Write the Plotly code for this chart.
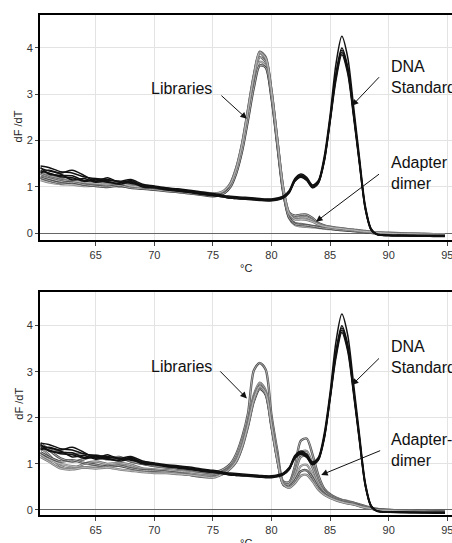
import plotly.graph_objects as go

# Temperature grid (deg C)
TEMP = [60.3, 61, 62, 63, 64, 65, 66, 67, 68, 69,
        70, 71, 72, 73, 74, 75, 75.5, 76, 76.5, 77,
        77.5, 78, 78.5, 79, 79.5, 80, 80.5, 81, 81.5, 82,
        82.5, 83, 83.5, 84, 84.5, 85, 85.5, 86, 86.5, 87,
        87.5, 88, 88.5, 89, 90, 91, 92, 93, 94, 94.8]

# DNA standard melt curves (same in both panels)
DNA_1 = [1.45, 1.42, 1.33, 1.30, 1.22, 1.18, 1.16, 1.12, 1.16, 1.06,
         1.02, 0.98, 0.96, 0.93, 0.89, 0.86, 0.84, 0.81, 0.80, 0.79,
         0.78, 0.77, 0.76, 0.75, 0.74, 0.74, 0.76, 0.80, 0.92, 1.18,
         1.28, 1.21, 1.04, 1.14, 1.66, 2.55, 3.65, 4.25, 3.8, 2.75,
         1.65, 0.6, 0.1, -0.02, -0.04, -0.04, -0.05, -0.05, -0.05, -0.05]
DNA_2 = [1.40, 1.35, 1.30, 1.36, 1.25, 1.12, 1.20, 1.10, 1.12, 1.03,
         1.00, 0.97, 0.94, 0.91, 0.88, 0.84, 0.82, 0.80, 0.78, 0.77,
         0.76, 0.76, 0.75, 0.74, 0.73, 0.73, 0.75, 0.79, 0.90, 1.16,
         1.25, 1.18, 1.02, 1.12, 1.6, 2.48, 3.45, 4.0, 3.6, 2.62,
         1.58, 0.57, 0.09, -0.02, -0.04, -0.05, -0.05, -0.05, -0.05, -0.05]
DNA_3 = [1.35, 1.30, 1.22, 1.20, 1.12, 1.15, 1.10, 1.08, 1.14, 1.02,
         0.99, 0.96, 0.92, 0.89, 0.86, 0.83, 0.81, 0.79, 0.77, 0.76,
         0.75, 0.75, 0.74, 0.73, 0.72, 0.72, 0.74, 0.78, 0.89, 1.14,
         1.23, 1.16, 1.0, 1.1, 1.58, 2.45, 3.4, 3.95, 3.55, 2.6,
         1.55, 0.55, 0.08, -0.02, -0.05, -0.05, -0.05, -0.06, -0.06, -0.06]
DNA_4 = [1.30, 1.36, 1.28, 1.15, 1.18, 1.10, 1.14, 1.12, 1.08, 1.04,
         1.01, 0.95, 0.93, 0.90, 0.85, 0.82, 0.80, 0.78, 0.76, 0.75,
         0.74, 0.74, 0.73, 0.72, 0.71, 0.71, 0.73, 0.77, 0.88, 1.13,
         1.22, 1.15, 0.99, 1.09, 1.56, 2.42, 3.36, 3.9, 3.5, 2.56,
         1.52, 0.53, 0.07, -0.03, -0.05, -0.05, -0.06, -0.06, -0.06, -0.06]
DNA_5 = [1.42, 1.28, 1.25, 1.24, 1.14, 1.16, 1.12, 1.06, 1.10, 1.00,
         0.98, 0.94, 0.91, 0.88, 0.84, 0.81, 0.80, 0.78, 0.76, 0.75,
         0.74, 0.73, 0.72, 0.71, 0.70, 0.70, 0.72, 0.76, 0.87, 1.12,
         1.21, 1.14, 0.98, 1.08, 1.54, 2.4, 3.3, 3.85, 3.45, 2.52,
         1.5, 0.52, 0.07, -0.03, -0.05, -0.06, -0.06, -0.06, -0.07, -0.07]

# Library melt curves, top panel
LIB_TOP_1 = [1.28, 1.22, 1.15, 1.12, 1.08, 1.06, 1.10, 1.05, 1.07, 0.99,
             0.97, 0.95, 0.92, 0.90, 0.87, 0.85, 0.86, 0.92, 1.08, 1.42,
             1.95, 2.68, 3.42, 3.92, 3.8, 3.08, 2.02, 0.98, 0.45, 0.38,
             0.4, 0.4, 0.33, 0.22, 0.17, 0.14, 0.12, 0.11, 0.09, 0.08,
             0.06, 0.05, 0.03, 0.02, 0.01, 0.0, -0.01, -0.01, -0.02, -0.02]
LIB_TOP_2 = [1.35, 1.25, 1.20, 1.16, 1.12, 1.10, 1.05, 1.08, 1.03, 1.01,
             0.98, 0.94, 0.93, 0.89, 0.86, 0.84, 0.85, 0.90, 1.05, 1.38,
             1.9, 2.62, 3.38, 3.88, 3.76, 3.05, 2.0, 0.96, 0.42, 0.33,
             0.35, 0.34, 0.28, 0.2, 0.15, 0.12, 0.1, 0.09, 0.08, 0.07,
             0.05, 0.04, 0.02, 0.01, 0.0, -0.01, -0.01, -0.02, -0.02, -0.02]
LIB_TOP_3 = [1.22, 1.18, 1.12, 1.08, 1.06, 1.04, 1.06, 1.02, 1.04, 0.98,
             0.96, 0.93, 0.91, 0.88, 0.85, 0.83, 0.84, 0.90, 1.04, 1.36,
             1.86, 2.56, 3.3, 3.8, 3.7, 3.0, 1.95, 0.92, 0.36, 0.22,
             0.2, 0.18, 0.16, 0.14, 0.12, 0.1, 0.09, 0.08, 0.07, 0.06,
             0.04, 0.03, 0.02, 0.01, 0.0, -0.01, -0.02, -0.02, -0.03, -0.03]
LIB_TOP_4 = [1.15, 1.10, 1.06, 1.05, 1.02, 1.03, 1.04, 1.01, 1.00, 0.97,
             0.95, 0.92, 0.90, 0.87, 0.84, 0.82, 0.83, 0.88, 1.02, 1.33,
             1.82, 2.5, 3.22, 3.7, 3.62, 2.95, 1.92, 0.9, 0.33, 0.18,
             0.15, 0.14, 0.13, 0.12, 0.1, 0.09, 0.08, 0.07, 0.06, 0.05,
             0.04, 0.03, 0.01, 0.0, -0.01, -0.02, -0.02, -0.03, -0.03, -0.03]
LIB_TOP_5 = [1.20, 1.14, 1.08, 1.10, 1.05, 1.02, 1.00, 1.03, 0.98, 0.96,
             0.94, 0.91, 0.89, 0.86, 0.83, 0.80, 0.82, 0.87, 1.0, 1.3,
             1.78, 2.45, 3.15, 3.62, 3.58, 2.92, 1.9, 0.88, 0.34, 0.2,
             0.18, 0.17, 0.15, 0.13, 0.11, 0.1, 0.08, 0.07, 0.06, 0.05,
             0.04, 0.02, 0.01, 0.0, -0.01, -0.02, -0.03, -0.03, -0.03, -0.04]
LIB_TOP_6 = [1.32, 1.28, 1.22, 1.14, 1.10, 1.08, 1.06, 1.09, 1.02, 1.00,
             0.99, 0.96, 0.94, 0.90, 0.88, 0.86, 0.87, 0.93, 1.07, 1.4,
             1.93, 2.66, 3.4, 3.9, 3.78, 3.06, 2.0, 0.97, 0.43, 0.3,
             0.3, 0.29, 0.25, 0.19, 0.15, 0.13, 0.11, 0.1, 0.08, 0.07,
             0.05, 0.04, 0.03, 0.02, 0.0, -0.01, -0.01, -0.02, -0.02, -0.02]

# Library melt curves, bottom panel (with adapter-dimer peak)
LIB_BOT_1 = [1.40, 1.30, 1.12, 1.05, 1.10, 1.18, 1.12, 1.15, 1.05, 1.00,
             0.95, 0.92, 0.90, 0.88, 0.84, 0.82, 0.84, 0.90, 1.0, 1.22,
             1.58, 2.1, 3.03, 3.19, 3.05, 2.05, 1.28, 0.62, 0.6, 0.95,
             1.5, 1.55, 1.2, 0.75, 0.46, 0.34, 0.27, 0.22, 0.19, 0.16,
             0.12, 0.08, 0.05, 0.02, 0.0, -0.01, -0.01, -0.02, -0.02, -0.02]
LIB_BOT_2 = [1.35, 1.20, 0.95, 0.90, 1.00, 1.05, 1.00, 1.02, 0.98, 0.90,
             0.88, 0.86, 0.84, 0.82, 0.79, 0.78, 0.80, 0.85, 0.95, 1.15,
             1.5, 1.95, 2.5, 2.76, 2.6, 1.9, 1.15, 0.6, 0.6, 0.85,
             1.25, 1.28, 1.0, 0.65, 0.42, 0.32, 0.25, 0.21, 0.18, 0.15,
             0.11, 0.07, 0.04, 0.02, 0.0, -0.01, -0.02, -0.02, -0.02, -0.03]
LIB_BOT_3 = [1.45, 1.32, 1.25, 1.22, 1.20, 1.15, 1.10, 1.12, 1.06, 1.00,
             0.96, 0.94, 0.90, 0.87, 0.83, 0.80, 0.80, 0.84, 0.93, 1.1,
             1.42, 1.9, 2.45, 2.7, 2.55, 1.85, 1.12, 0.58, 0.56, 0.8,
             1.15, 1.18, 0.92, 0.6, 0.4, 0.3, 0.24, 0.2, 0.17, 0.14,
             0.1, 0.06, 0.04, 0.01, 0.0, -0.01, -0.02, -0.02, -0.03, -0.03]
LIB_BOT_4 = [1.20, 1.10, 1.00, 0.95, 0.92, 0.95, 0.96, 0.98, 0.92, 0.88,
             0.84, 0.82, 0.80, 0.78, 0.75, 0.74, 0.77, 0.82, 0.92, 1.08,
             1.4, 1.86, 2.4, 2.66, 2.52, 1.82, 1.1, 0.57, 0.52, 0.7,
             0.95, 0.98, 0.78, 0.52, 0.36, 0.28, 0.23, 0.19, 0.16, 0.13,
             0.09, 0.06, 0.03, 0.01, -0.01, -0.02, -0.02, -0.03, -0.03, -0.03]
LIB_BOT_5 = [1.25, 1.15, 1.05, 1.08, 1.02, 0.98, 0.94, 0.96, 0.90, 0.86,
             0.85, 0.83, 0.80, 0.76, 0.72, 0.72, 0.75, 0.80, 0.9, 1.05,
             1.36, 1.82, 2.36, 2.63, 2.5, 1.8, 1.08, 0.55, 0.5, 0.64,
             0.84, 0.86, 0.7, 0.48, 0.35, 0.27, 0.22, 0.18, 0.15, 0.12,
             0.09, 0.05, 0.03, 0.01, -0.01, -0.02, -0.03, -0.03, -0.03, -0.04]
LIB_BOT_6 = [1.15, 1.05, 0.90, 0.88, 0.92, 0.90, 0.92, 0.88, 0.85, 0.82,
             0.80, 0.80, 0.78, 0.76, 0.73, 0.70, 0.74, 0.80, 0.9, 1.06,
             1.38, 1.85, 2.4, 2.68, 2.54, 1.84, 1.1, 0.56, 0.48, 0.58,
             0.74, 0.76, 0.62, 0.44, 0.33, 0.26, 0.21, 0.17, 0.14, 0.12,
             0.08, 0.05, 0.03, 0.0, -0.01, -0.02, -0.03, -0.03, -0.04, -0.04]

DNA_CURVES = [DNA_1, DNA_2, DNA_3, DNA_4, DNA_5]
LIB_TOP = [LIB_TOP_1, LIB_TOP_2, LIB_TOP_3, LIB_TOP_4, LIB_TOP_5, LIB_TOP_6]
LIB_BOT = [LIB_BOT_1, LIB_BOT_2, LIB_BOT_3, LIB_BOT_4, LIB_BOT_5, LIB_BOT_6]

X_TICKS = [65, 70, 75, 80, 85, 90, 95]
Y_TICKS = [0, 1, 2, 3, 4]

LIB_COLORS = ["#505050", "#707070", "#606060", "#858585", "#404040", "#7a7a7a"]
DNA_COLOR = "#111111"
FONT = "Liberation Sans, Arial, Helvetica, sans-serif"

fig = go.Figure()

for panel, libs in (("", LIB_TOP), ("2", LIB_BOT)):
    for i, ys in enumerate(libs):
        # outlined grey stroke (dark edge, light core) as in the scanned figure
        fig.add_trace(go.Scatter(
            x=TEMP, y=ys, mode="lines", xaxis="x" + panel, yaxis="y" + panel,
            line=dict(color=LIB_COLORS[i % len(LIB_COLORS)], width=2.4,
                      shape="spline", smoothing=0.8),
            showlegend=False, hoverinfo="skip"))
        fig.add_trace(go.Scatter(
            x=TEMP, y=ys, mode="lines", xaxis="x" + panel, yaxis="y" + panel,
            line=dict(color="#d8d8d8", width=0.7, shape="spline", smoothing=0.8),
            showlegend=False, hoverinfo="skip"))
    for ys in DNA_CURVES:
        fig.add_trace(go.Scatter(
            x=TEMP, y=ys, mode="lines", xaxis="x" + panel, yaxis="y" + panel,
            line=dict(color=DNA_COLOR, width=1.5, shape="spline", smoothing=0.8),
            showlegend=False, hoverinfo="skip"))

xaxis_style = dict(
    range=[60.25, 95.4], tickmode="array", tickvals=X_TICKS,
    ticks="outside", ticklen=4, tickcolor="#444", tickwidth=1,
    showgrid=True, gridcolor="#e3e3e3", gridwidth=1,
    showline=True, linecolor="#000", linewidth=2, mirror=True,
    zeroline=False, tickfont=dict(size=11, color="#333", family=FONT),
    ticklabeloverflow="allow", automargin=False, fixedrange=True,
)
yaxis_style = dict(
    tickmode="array", tickvals=Y_TICKS,
    ticks="outside", ticklen=3, tickcolor="#444", tickwidth=1,
    showgrid=True, gridcolor="#e3e3e3", gridwidth=1,
    showline=True, linecolor="#000", linewidth=2, mirror=False,
    zeroline=True, zerolinecolor="#666", zerolinewidth=1,
    tickfont=dict(size=11, color="#333", family=FONT),
    automargin=False, fixedrange=True,
)

fig.update_layout(
    width=452, height=543,
    margin=dict(l=40, r=0, t=15, b=28),
    paper_bgcolor="white", plot_bgcolor="white",
    font=dict(family=FONT, color="#111"),
    xaxis=dict(xaxis_style, domain=[0, 1], anchor="y"),
    yaxis=dict(yaxis_style, domain=[0.55, 1], anchor="x", range=[-0.145, 4.71]),
    xaxis2=dict(xaxis_style, domain=[0, 1], anchor="y2"),
    yaxis2=dict(yaxis_style, domain=[0, 0.446], anchor="x2", range=[-0.11, 4.73]),
)

LABEL_SIZE = 16
ann = []


def text(xr, yr, x, y, s, xanchor="center"):
    ann.append(dict(xref=xr, yref=yr, x=x, y=y, text=s, showarrow=False,
                    xanchor=xanchor, yanchor="middle", align="left",
                    font=dict(size=LABEL_SIZE, color="#111", family=FONT)))


def arrow(xr, yr, x, y, ax, ay):
    ann.append(dict(xref=xr, yref=yr, axref=xr, ayref=yr, x=x, y=y, ax=ax, ay=ay,
                    text="", showarrow=True, arrowhead=2, arrowsize=1.3,
                    arrowwidth=1, arrowcolor="#111"))


# top panel
text("x", "y", 72.28, 3.12, "Libraries")
arrow("x", "y", 77.9, 2.47, 75.6, 3.0)
text("x", "y", 90.05, 3.37, "DNA<br>Standard", "left")
arrow("x", "y", 86.86, 2.75, 89.3, 3.4)
text("x", "y", 90.05, 1.30, "Adapter<br>dimer", "left")
arrow("x", "y", 83.8, 0.25, 89.3, 1.3)

# bottom panel
text("x2", "y2", 72.28, 3.11, "Libraries")
arrow("x2", "y2", 77.9, 2.42, 75.5, 3.04)
text("x2", "y2", 90.0, 3.32, "DNA<br>Standard", "left")
arrow("x2", "y2", 86.86, 2.71, 89.3, 3.32)
text("x2", "y2", 90.0, 1.31, "Adapter-<br>dimer", "left")
arrow("x2", "y2", 84.24, 0.76, 89.4, 1.30)

# axis titles
for yc in (0.7775, 0.223):
    ann.append(dict(xref="paper", yref="paper", x=-0.053, y=yc, text="dF /dT",
                    textangle=-90, showarrow=False, xanchor="center", yanchor="middle",
                    font=dict(size=11, color="#222", family=FONT)))
for yc in (0.494, -0.056):
    ann.append(dict(xref="paper", yref="paper", x=0.5, y=yc, text="°C",
                    showarrow=False, xanchor="center", yanchor="middle",
                    font=dict(size=11, color="#222", family=FONT)))

fig.update_layout(annotations=ann)

fig.write_html(
    "out.html",
    config={"displayModeBar": False, "staticPlot": True},
    post_script="document.body.style.margin='0';document.body.style.overflow='hidden';",
)
